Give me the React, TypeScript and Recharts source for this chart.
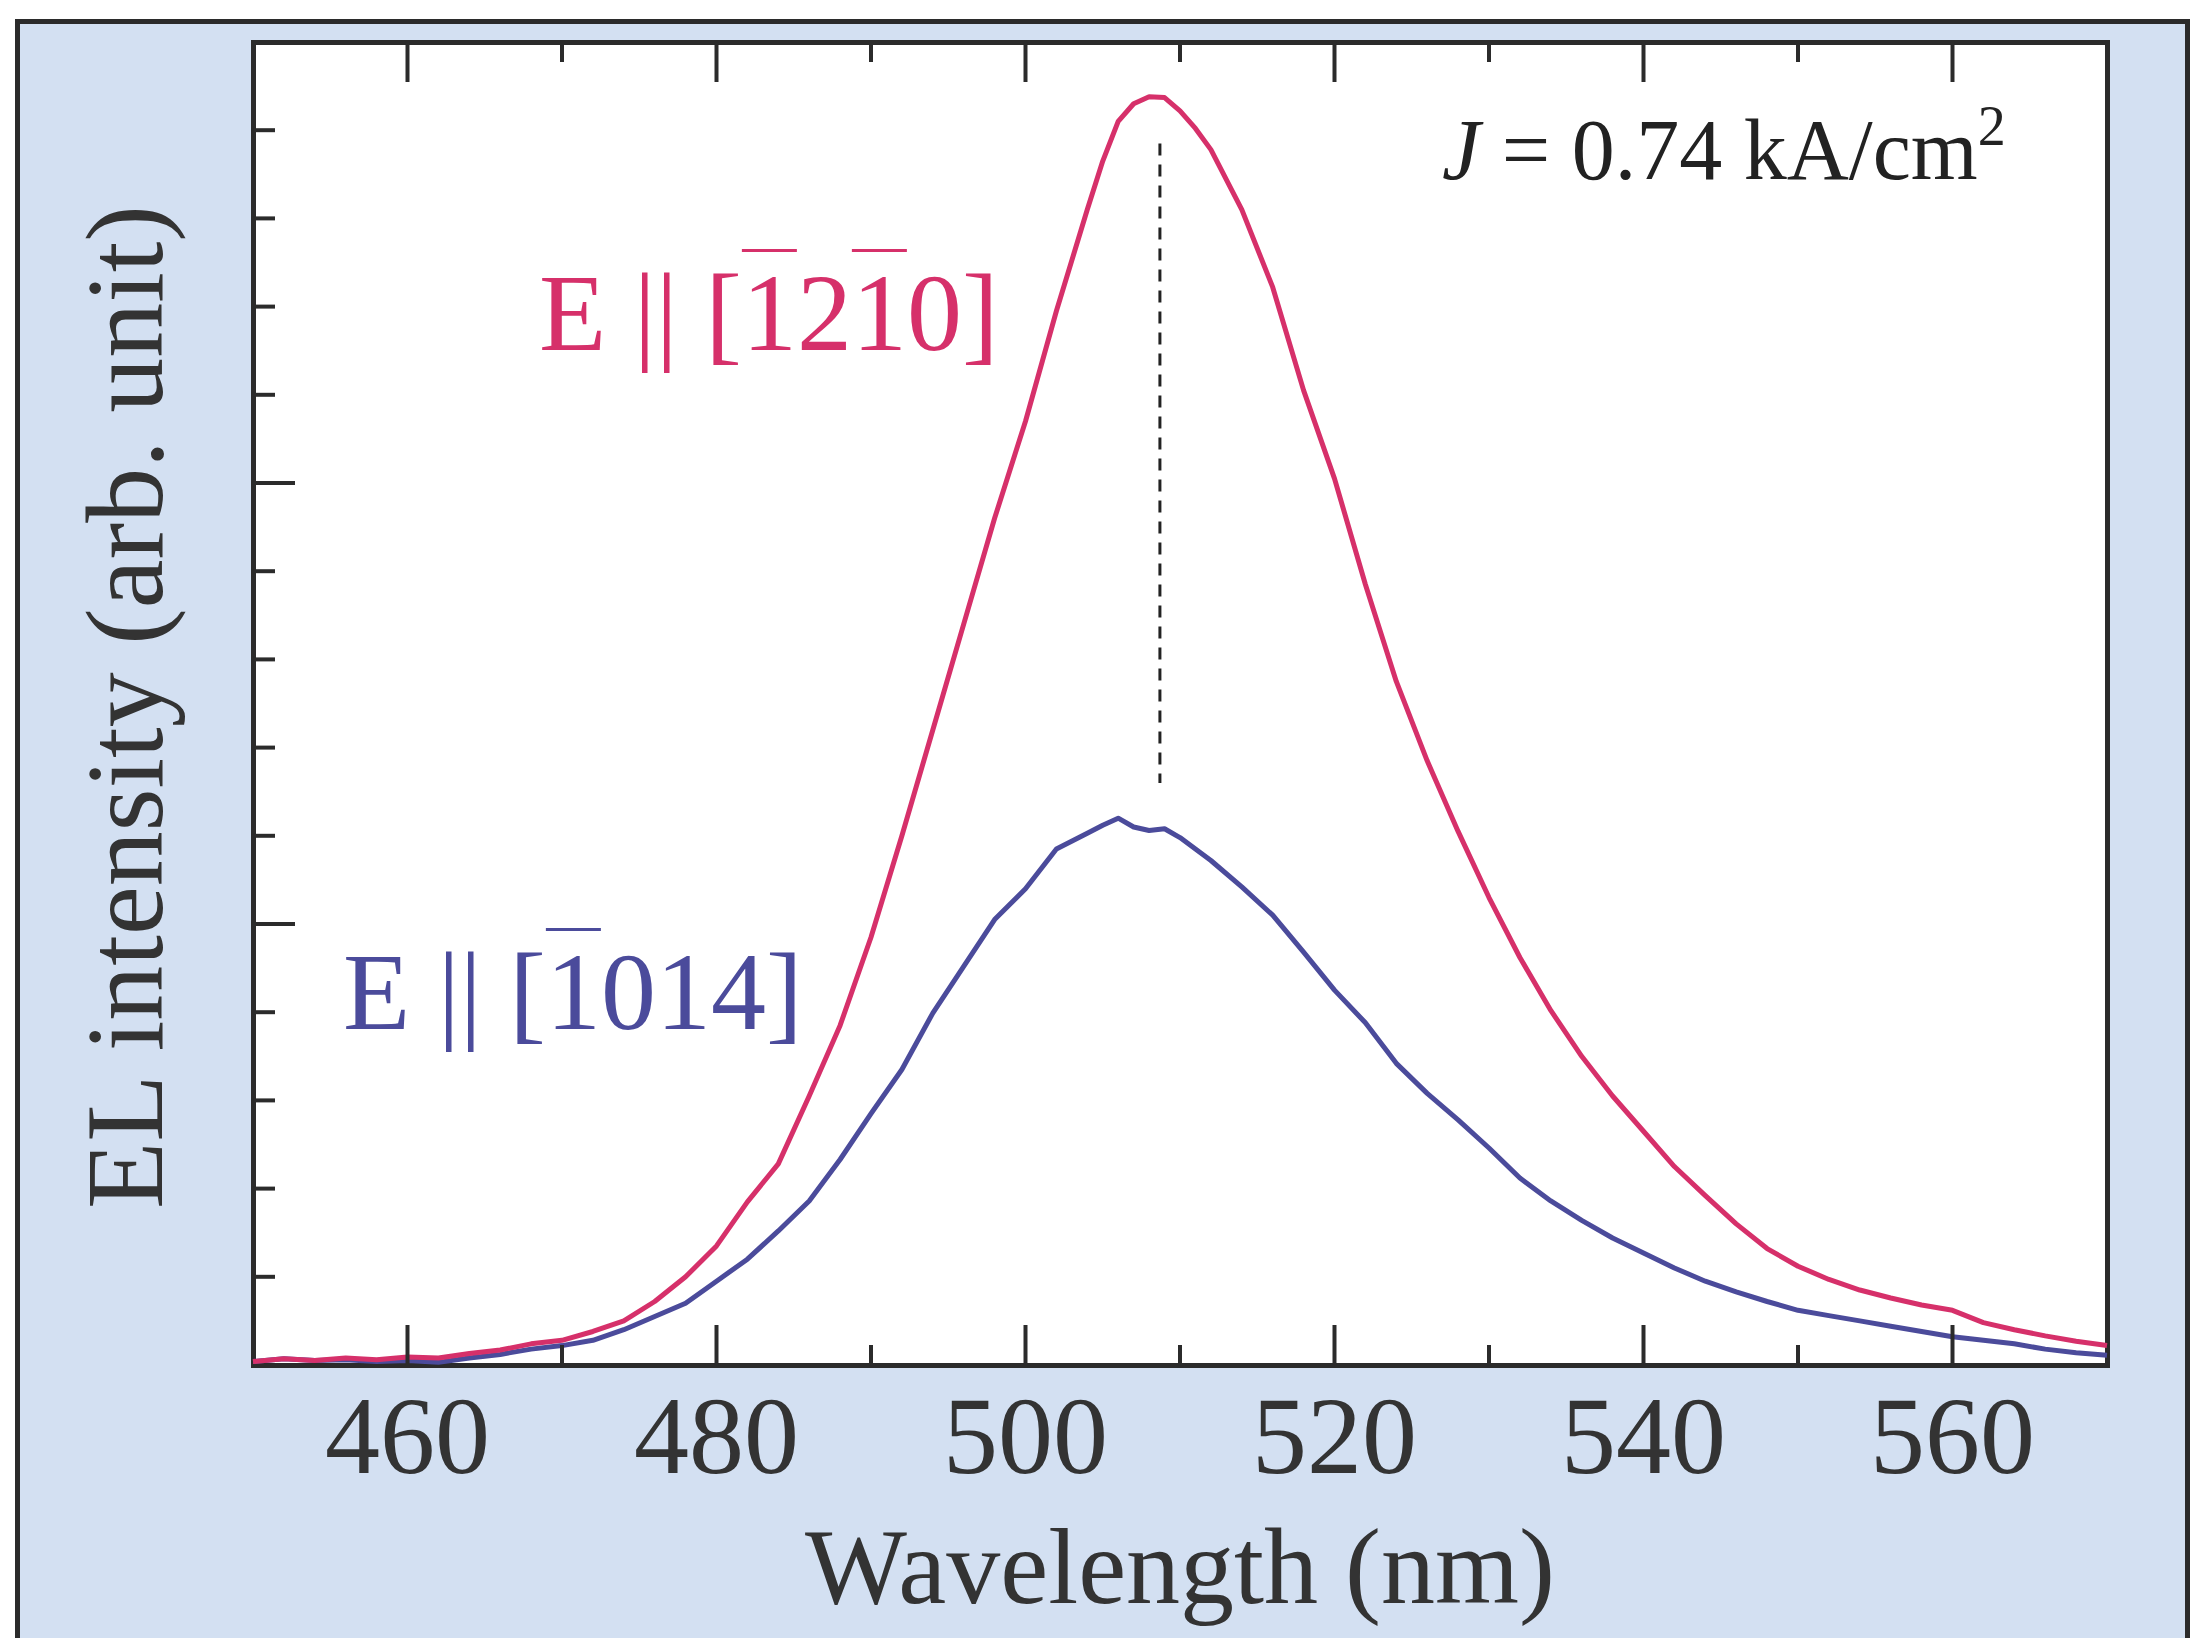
import { Line, LineChart, ReferenceLine, XAxis, YAxis } from "recharts";

const wavelengths = [
  450, 452, 454, 456, 458, 460, 462, 464, 466, 468, 470, 472, 474, 476, 478, 480, 482, 484, 486, 488, 490, 492, 494, 496, 498, 500, 502, 504,
  505, 506, 507, 508, 509, 510, 511, 512,
  514, 516, 518, 520, 522, 524, 526, 528, 530, 532, 534, 536, 538, 540, 542, 544, 546, 548, 550, 552, 554, 556, 558, 560, 562, 564, 566, 568, 570,
];

// E || [-12-10]
const redSeries = [
  0.04, 0.07, 0.05, 0.08, 0.06, 0.09, 0.08, 0.13, 0.17, 0.24, 0.28, 0.38, 0.5, 0.72, 1.0, 1.35, 1.85, 2.28, 3.05, 3.85, 4.85, 6.0, 7.2, 8.4, 9.6, 10.7, 11.95, 13.1,
  13.65, 14.1, 14.3, 14.38, 14.37, 14.22, 14.02, 13.78,
  13.1, 12.22, 11.05, 10.05, 8.85, 7.75, 6.85, 6.05, 5.3, 4.62, 4.02, 3.5, 3.05, 2.65, 2.25, 1.92, 1.6, 1.32, 1.12, 0.97, 0.85, 0.76, 0.68, 0.62, 0.48, 0.4, 0.33, 0.27, 0.22,
];

// E || [-1014]
const blueSeries = [
  0.04, 0.07, 0.05, 0.06, 0.04, 0.05, 0.03, 0.08, 0.12, 0.18, 0.22, 0.28, 0.4, 0.55, 0.7, 0.95, 1.2, 1.52, 1.86, 2.33, 2.85, 3.35, 3.99, 4.52, 5.05, 5.4, 5.85, 6.03,
  6.12, 6.2, 6.1, 6.06, 6.08, 5.98, 5.85, 5.72,
  5.42, 5.1, 4.68, 4.25, 3.88, 3.42, 3.08, 2.78, 2.46, 2.12, 1.86, 1.64, 1.44, 1.27, 1.1, 0.95, 0.83, 0.72, 0.62, 0.56, 0.5, 0.44, 0.38, 0.32, 0.28, 0.24, 0.18, 0.14, 0.11,
];

const xTicks = [450, 460, 470, 480, 490, 500, 510, 520, 530, 540, 550, 560, 570];
const yTicks = [0, 1, 2, 3, 4, 5, 6, 7, 8, 9, 10, 11, 12, 13, 14, 15];

const peakWavelength = 508.7;
const dashTop = 13.85;
const dashBottom = 6.6;

const data = wavelengths.map((w, i) => ({ w, red: redSeries[i], blue: blueSeries[i] }));

const W = 2195;
const H = 1638;
const plot = { left: 253, top: 42, right: 2107, bottom: 1365 };
const ink = "#2b2b2b";
const redColor = "#d6306a";
const blueColor = "#4b4b9b";
const serif = "'Liberation Serif', 'Times New Roman', serif";
const bar = { textDecoration: "overline", textDecorationThickness: "3px" } as any;

function BottomTick(props: any) {
  const { x, y, payload } = props;
  const v = payload.value;
  const major = v % 20 === 0;
  const edge = v === 450 || v === 570;
  return (
    <g>
      {!edge && <line x1={x} y1={y} x2={x} y2={y - (major ? 40 : 20)} stroke={ink} strokeWidth={4} />}
      {major && (
        <text x={x} y={y + 108} textAnchor="middle" fontFamily={serif} fontSize={110} fill="#333">
          {v}
        </text>
      )}
    </g>
  );
}

function TopTick(props: any) {
  const { x, y, payload } = props;
  const v = payload.value;
  if (v === 450 || v === 570) return <g />;
  return <line x1={x} y1={y} x2={x} y2={y + (v % 20 === 0 ? 40 : 20)} stroke={ink} strokeWidth={4} />;
}

function LeftTick(props: any) {
  const { x, y, payload } = props;
  const v = payload.value;
  if (v === 0 || v === 15) return <g />;
  return <line x1={x} y1={y} x2={x + (v % 5 === 0 ? 42 : 22)} y2={y} stroke={ink} strokeWidth={4} />;
}

function RightTick(props: any) {
  const { x, y, payload } = props;
  const v = payload.value;
  if (v === 0 || v === 15) return <g />;
  return <line x1={x} y1={y} x2={x - (v % 5 === 0 ? 42 : 22)} y2={y} stroke={ink} strokeWidth={4} />;
}

function SeriesLabel({ left, baseline, color, children }: any) {
  return (
    <div
      style={{
        position: "absolute",
        left,
        top: baseline - 92,
        fontFamily: serif,
        fontSize: 110,
        lineHeight: "110px",
        color,
        whiteSpace: "nowrap",
      }}
    >
      {children}
    </div>
  );
}

export default function App() {
  return (
    <div style={{ position: "absolute", left: 0, top: 0, width: W, height: H, overflow: "hidden", background: "#fff" }}>
      <div
        style={{
          position: "absolute",
          left: 15,
          top: 19,
          width: 2175,
          height: 1680,
          boxSizing: "border-box",
          border: `5px solid ${ink}`,
          background: "#d3e0f2",
        }}
      />
      <div
        style={{
          position: "absolute",
          left: plot.left - 2.5,
          top: plot.top - 2.5,
          width: plot.right - plot.left + 5,
          height: plot.bottom - plot.top + 5,
          boxSizing: "border-box",
          border: `5px solid ${ink}`,
          background: "#fff",
        }}
      />
      <div style={{ position: "absolute", left: 0, top: 0 }}>
        <LineChart
          width={W}
          height={H}
          data={data}
          margin={{ top: plot.top - 1, left: plot.left - 1, right: W - plot.right - 1, bottom: H - plot.bottom - 100 }}
        >
          <XAxis
            dataKey="w"
            type="number"
            domain={[450, 570]}
            ticks={xTicks}
            interval={0}
            height={100}
            axisLine={false}
            tickLine={false}
            tickSize={0}
            tickMargin={0}
            tick={<BottomTick />}
          />
          <XAxis
            xAxisId="top"
            orientation="top"
            dataKey="w"
            type="number"
            domain={[450, 570]}
            ticks={xTicks}
            interval={0}
            height={1}
            axisLine={false}
            tickLine={false}
            tickSize={0}
            tickMargin={0}
            tick={<TopTick />}
          />
          <YAxis
            type="number"
            domain={[0, 15]}
            ticks={yTicks}
            interval={0}
            width={1}
            axisLine={false}
            tickLine={false}
            tickSize={0}
            tickMargin={0}
            tick={<LeftTick />}
          />
          <YAxis
            yAxisId="right"
            orientation="right"
            type="number"
            domain={[0, 15]}
            ticks={yTicks}
            interval={0}
            width={1}
            axisLine={false}
            tickLine={false}
            tickSize={0}
            tickMargin={0}
            tick={<RightTick />}
          />
          <Line dataKey="blue" type="linear" stroke={blueColor} strokeWidth={5} strokeLinejoin="round" dot={false} isAnimationActive={false} />
          <Line dataKey="red" type="linear" stroke={redColor} strokeWidth={5} strokeLinejoin="round" dot={false} isAnimationActive={false} />
          <ReferenceLine
            segment={[
              { x: peakWavelength, y: dashTop },
              { x: peakWavelength, y: dashBottom },
            ]}
            stroke="#222"
            strokeWidth={3}
            strokeDasharray="12 9"
          />
        </LineChart>
      </div>
      <svg width={W} height={H} style={{ position: "absolute", left: 0, top: 0, pointerEvents: "none" }}>
        <text x={1180} y={1603} textAnchor="middle" fontFamily={serif} fontSize={108} fill="#333">
          Wavelength (nm)
        </text>
        <text transform="translate(162,707) rotate(-90)" textAnchor="middle" fontFamily={serif} fontSize={110} fill="#333">
          EL intensity (arb. unit)
        </text>
        <text x={1442} y={179} fontFamily={serif} fontSize={86} fill="#222">
          <tspan fontStyle="italic">J</tspan>
          <tspan> = 0.74 kA/cm</tspan>
          <tspan fontSize={56} dy={-34}>2</tspan>
        </text>
      </svg>
      <SeriesLabel left={539} baseline={350} color={redColor}>
        E || [<span style={bar}>1</span>2<span style={bar}>1</span>0]
      </SeriesLabel>
      <SeriesLabel left={343} baseline={1029} color={blueColor}>
        E || [<span style={bar}>1</span>014]
      </SeriesLabel>
    </div>
  );
}
